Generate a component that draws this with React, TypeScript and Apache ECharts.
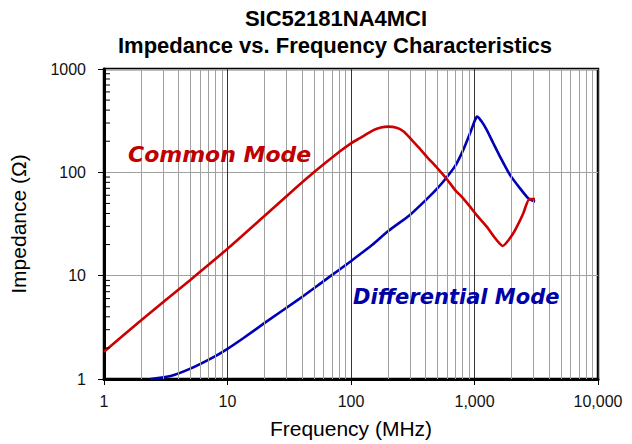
import React, { useEffect, useRef } from "react";
import * as echarts from "echarts";

const titleLines = ["SIC52181NA4MCI", "Impedance vs. Frequency Characteristics"];

const cmFreq = [1, 2, 5, 10, 20, 32, 50, 81.5, 100, 118, 152, 175, 200, 234, 265, 300, 350, 410, 500, 588, 700, 800, 920, 1042, 1256, 1450, 1600, 1691, 1800, 2061, 2300, 2485, 2780, 3090];
const cmZ = [1.84, 3.7, 9.1, 18.2, 38, 62.8, 100, 160, 191, 214, 256, 271, 277, 270, 250, 216, 176, 142, 110, 88, 67, 57, 46.6, 38.5, 29.8, 23.5, 20.4, 19.4, 20.6, 25.7, 33, 40.2, 55, 55];

const dmFreq = [2.39, 3.47, 5, 7.78, 10, 13.4, 20, 38.4, 60, 81.5, 100, 114, 150, 200, 300, 410, 500, 588, 700, 811, 920, 1010, 1047, 1143, 1256, 1420, 1608, 1937, 2336, 2729, 3090];
const dmZ = [1.0, 1.07, 1.26, 1.64, 1.96, 2.48, 3.49, 6.0, 8.85, 11.55, 13.8, 15.6, 20, 27, 38.7, 55, 70, 87.7, 116, 165, 239, 321, 346, 310, 257, 191, 142, 94.4, 70, 56, 52];

const minorFreq = [2, 3, 4, 5, 6, 7, 8, 9, 20, 30, 40, 50, 60, 70, 80, 90, 200, 300, 400, 500, 600, 700, 800, 900, 2000, 3000, 4000, 5000, 6000, 7000, 8000, 9000];
const minorZ = [2, 3, 4, 5, 6, 7, 8, 9, 20, 30, 40, 50, 60, 70, 80, 90, 200, 300, 400, 500, 600, 700, 800, 900];

const xRange = [1, 10000];
const yRange = [1, 1000];

const FONT = "Liberation Sans, Arial, sans-serif";

export default function App() {
  const ref = useRef<HTMLDivElement>(null);
  useEffect(() => {
    if (!ref.current) return;
    const chart = echarts.init(ref.current, null, { renderer: "svg" });
    const fmtX = (v: number) => Math.round(v).toLocaleString("en-US");
    const fmtY = (v: number) => String(Math.round(v));
    chart.setOption({
      animation: false,
      backgroundColor: "#ffffff",
      grid: {
        left: 104,
        right: 34,
        top: 69,
        bottom: 65,
        show: true,
        borderColor: "#000",
        borderWidth: 2.5,
        backgroundColor: "transparent",
      },
      xAxis: [
        {
          type: "log",
          logBase: 10,
          min: xRange[0],
          max: xRange[1],
          axisLine: { show: true, onZero: false, lineStyle: { color: "#000", width: 3 } },
          axisTick: { show: true, inside: false, length: 6, lineStyle: { color: "#000", width: 1 } },
          axisLabel: { margin: 14, fontFamily: FONT, fontSize: 16, color: "#111", formatter: fmtX },
          splitLine: { show: true, lineStyle: { color: "#333", width: 1 } },
        },
      ],
      yAxis: [
        {
          type: "log",
          logBase: 10,
          min: yRange[0],
          max: yRange[1],
          axisLine: { show: true, lineStyle: { color: "#000", width: 3 } },
          axisTick: { show: true, inside: false, length: 6, lineStyle: { color: "#000", width: 1 } },
          axisLabel: { margin: 18, fontFamily: FONT, fontSize: 16, color: "#111", formatter: fmtY },
          splitLine: { show: true, lineStyle: { color: "#a0a0a0", width: 1 } },
        },
      ],
      series: [
        {
          type: "line",
          data: [],
          z: 1,
          silent: true,
          markLine: {
            silent: true,
            symbol: ["none", "none"],
            label: { show: false },
            lineStyle: { color: "#a0a0a0", width: 1, type: "solid" },
            emphasis: { disabled: true },
            data: minorFreq.map((f) => ({ xAxis: f })),
          },
        },
        {
          type: "custom",
          silent: true,
          z: 6,
          clip: false,
          data: minorZ.map((v) => [xRange[0], v]),
          renderItem: (_params: any, api: any) => {
            const p = api.coord([api.value(0), api.value(1)]);
            return {
              type: "line",
              shape: { x1: p[0], y1: p[1], x2: p[0] + 6, y2: p[1] },
              style: { stroke: "#000", lineWidth: 1 },
            };
          },
        },
        {
          name: "Common Mode",
          type: "line",
          z: 5,
          data: cmFreq.map((f, i) => [f, cmZ[i]]),
          showSymbol: false,
          smooth: 0.2,
          lineStyle: { color: "#cc0000", width: 2.6 },
        },
        {
          name: "Differential Mode",
          type: "line",
          z: 4,
          data: dmFreq.map((f, i) => [f, dmZ[i]]),
          showSymbol: false,
          smooth: 0.2,
          lineStyle: { color: "#0000b8", width: 2.6 },
        },
      ],
      graphic: [
        {
          type: "text",
          x: 336,
          y: 18,
          style: {
            text: titleLines[0],
            font: `bold 22px ${FONT}`,
            fill: "#000",
            textAlign: "center",
            textVerticalAlign: "middle",
          },
        },
        {
          type: "text",
          x: 335,
          y: 45,
          style: {
            text: titleLines[1],
            font: `bold 22px ${FONT}`,
            fill: "#000",
            textAlign: "center",
            textVerticalAlign: "middle",
          },
        },
        {
          type: "text",
          x: 18,
          y: 224,
          rotation: Math.PI / 2,
          style: {
            text: "Impedance (Ω)",
            font: `21px ${FONT}`,
            fill: "#000",
            textAlign: "center",
            textVerticalAlign: "middle",
          },
        },
        {
          type: "text",
          x: 351,
          y: 428,
          style: {
            text: "Frequency (MHz)",
            font: `21px ${FONT}`,
            fill: "#000",
            textAlign: "center",
            textVerticalAlign: "middle",
          },
        },
        {
          type: "text",
          x: 128,
          y: 154,
          z: 10,
          style: {
            text: "Common Mode",
            font: `italic bold 22px "DejaVu Sans", sans-serif`,
            fill: "#c00000",
            textAlign: "left",
            textVerticalAlign: "middle",
          },
        },
        {
          type: "text",
          x: 353,
          y: 297,
          z: 10,
          style: {
            text: "Differential Mode",
            font: `italic bold 21px "DejaVu Sans", sans-serif`,
            fill: "#0000a8",
            textAlign: "left",
            textVerticalAlign: "middle",
          },
        },
      ],
    });
    return () => chart.dispose();
  }, []);
  return (
    <div
      ref={ref}
      style={{ position: "fixed", left: 0, top: 0, width: 632, height: 444, background: "#fff" }}
    />
  );
}
